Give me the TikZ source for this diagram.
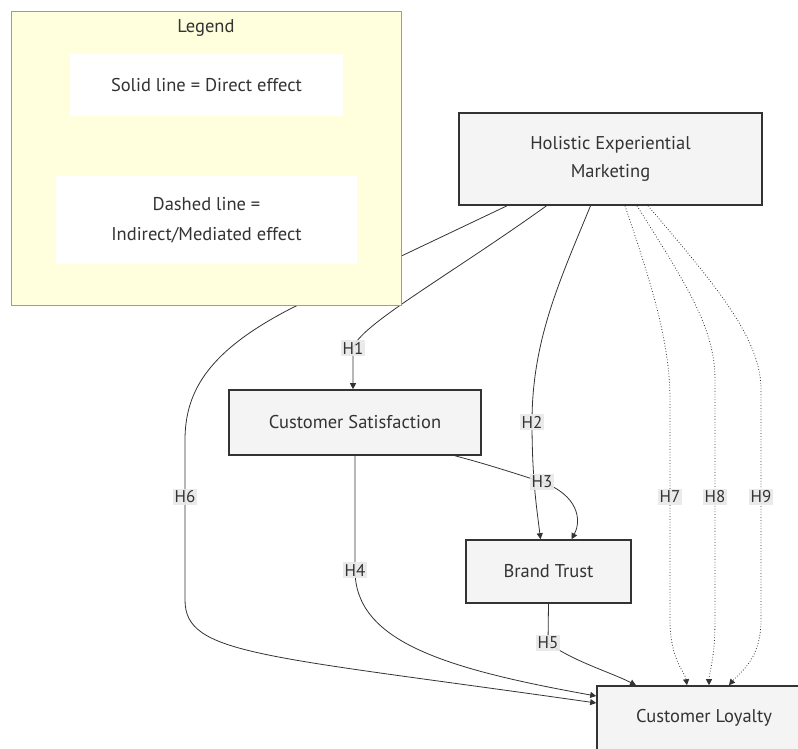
\documentclass[tikz,border=0pt]{standalone}
\usepackage{fontspec}
\setmainfont{PT Sans}
\usepackage{tikz}
\usetikzlibrary{arrows.meta,positioning,backgrounds,calc}
\definecolor{cLine}{HTML}{333333}
\definecolor{cBox}{HTML}{F4F4F4}
\definecolor{cLeg}{HTML}{FFFFDE}
\definecolor{cLegB}{HTML}{AAAA33}
\definecolor{cLbl}{HTML}{E8E8E8}
\tikzset{
  box/.style={draw=cLine, line width=1.6pt, fill=cBox, text=cLine,
              align=center, font=\fontsize{18.5}{28}\selectfont, inner sep=0pt},
  legbox/.style={fill=white, text=cLine, align=center,
                 font=\fontsize{18.5}{30}\selectfont, inner sep=0pt},
  flow/.style={-{Triangle[length=6pt,width=6pt]}, line width=0.8pt, draw=cLine},
  flowd/.style={flow, dotted},
  lbl/.style={fill=cLbl, fill opacity=0.9, text opacity=1, text=cLine,
              font=\fontsize{17}{19}\selectfont, inner sep=2pt},
}
\begin{document}
\begin{tikzpicture}[x=1pt, y=-1pt]
  \useasboundingbox (0,0) rectangle (798,749);
  \clip (0,0) rectangle (798,749);

  \node[box, minimum width=303, minimum height=92] (hem) at (610.5,159) {Holistic Experiential\\Marketing};
  \node[box, minimum width=252, minimum height=65] (cs) at (355,422.5) {Customer Satisfaction};
  \node[box, minimum width=165, minimum height=63] (bt) at (548.5,571.5) {Brand Trust};
  \node[box, minimum width=214, minimum height=64] (cl) at (704,718) {Customer Loyalty};

  % legend sits above the H6 line
  \node[draw=cLegB, line width=1pt, fill=cLeg, minimum width=390, minimum height=293] (legend) at (206,158.5) {};
  \node[text=cLine, font=\fontsize{18.5}{20}\selectfont, below=5pt of legend.north] (legtitle) {Legend};
  \node[legbox, minimum width=273, minimum height=62] (solid) at (206.5,85) {Solid line = Direct effect};
  \node[legbox, minimum width=301, minimum height=88] (dashed) at (206.5,220) {Dashed line =\\Indirect/Mediated effect};

  \begin{scope}[on background layer]
    \draw[flow] ([xshift=-64]hem.south) .. controls (450,275) and (360,325) .. (353,348) node[lbl] {H1} -- ([xshift=-2]cs.north);
    \draw[flow] ([xshift=-20]hem.south) .. controls (560,280) and (532,340) .. (532,422) node[lbl] {H2} .. controls (532,480) and (537,510) .. ([xshift=-8]bt.north);
    \draw[flow] ([xshift=100]cs.south) .. controls (490,465) and (520,475) .. (542,482) node[lbl] {H3} .. controls (578,495) and (582,520) .. ([xshift=23]bt.north);
    \draw[flow] (cs.south) -- (355,570) node[lbl] {H4} .. controls (355,640) and (440,668) .. ([yshift=22]cl.west);
    \draw[flow] (bt.south) -- (548,643) node[lbl] {H5} .. controls (575,662) and (610,672) .. ([xshift=-68]cl.north);
    \draw[flow] ([xshift=-103.5]hem.south) -- (292,308) .. controls (210,350) and (185,390) .. (185,440) -- (185,497) node[lbl] {H6} -- (185,600) .. controls (185,655) and (260,655) .. ([yshift=15]cl.west);
    \draw[flowd] ([xshift=14.5]hem.south) .. controls (650,280) and (670,340) .. (670,400) -- (670,497) node[lbl] {H7} -- (670,620) .. controls (670,660) and (685,672) .. ([xshift=-17]cl.north);
    \draw[flowd] ([xshift=26.5]hem.south) .. controls (690,290) and (715,330) .. (715,380) -- (715,497) node[lbl] {H8} -- (715,620) .. controls (715,660) and (709,672) .. ([xshift=5]cl.north);
    \draw[flowd] ([xshift=37.5]hem.south) .. controls (720,290) and (761,340) .. (761,390) -- (761,497) node[lbl] {H9} -- (761,620) .. controls (761,660) and (740,672) .. ([xshift=25]cl.north);
  \end{scope}
\end{tikzpicture}
\end{document}
